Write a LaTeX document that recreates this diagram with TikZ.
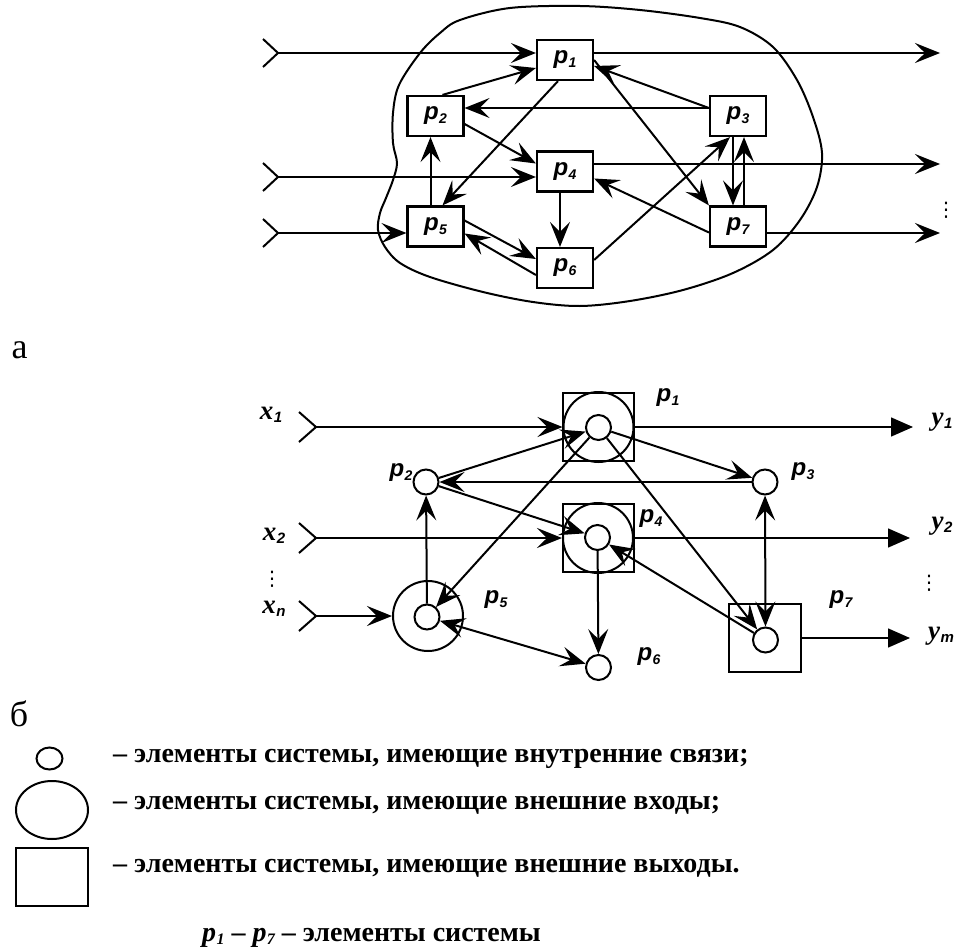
\documentclass[tikz,border=0pt]{standalone}
\usepackage{fontspec}
\setmainfont{Liberation Serif}
\setsansfont{Liberation Sans}
\newfontfamily\dejavu{DejaVu Sans}
\usetikzlibrary{arrows.meta,calc}
\newcommand\pl[1]{{\fontsize{24}{24}\selectfont\sffamily\bfseries\itshape p\kern0.3pt\raisebox{-0.3ex}{\fontsize{14}{14}\selectfont #1}}}
\newcommand\xl[2]{{\fontsize{27}{27}\selectfont\bfseries\itshape #1\kern0.5pt\raisebox{-0.25ex}{\sffamily\fontsize{15}{15}\selectfont #2}}}
\newcommand\pp[1]{{\bfseries\itshape p\kern0.3pt\raisebox{-0.25ex}{\fontsize{16}{16}\selectfont #1}}}
\begin{document}
\begin{tikzpicture}[x=1pt,y=-1pt,
  box/.style={draw,line width=2.2pt,minimum width=56pt,minimum height=40pt,inner sep=0pt,fill=white},
  sq/.style={draw,line width=2pt,minimum width=71pt,minimum height=68pt,inner sep=0pt},
  big/.style={draw,circle,line width=2pt,minimum size=70pt,inner sep=0pt},
  sm/.style={draw,circle,line width=2pt,minimum size=25pt,inner sep=0pt,fill=white},
  ln/.style={line width=2pt},
  tip/.tip={Stealth[length=25pt,width=20pt,inset=10pt]},
  ar/.style={ln,-tip},
  arb/.style={ln,tip-tip},
  outar/.style={line width=1.5pt,-{Triangle[length=22pt,width=19pt]}},
  lbl/.style={inner sep=0pt},
  dots/.style={inner sep=0pt,font=\dejavu\fontsize{20}{20}\selectfont},
  legtext/.style={anchor=west,inner sep=0pt,font=\fontsize{28}{28}\selectfont\bfseries}
]
\useasboundingbox (0,0) rectangle (956,950);

% ================= (a) =================
\draw[line width=2pt] plot[smooth cycle,tension=0.55] coordinates {
(580,6) (640,10) (700,18) (740,27) (773,47) (797,80) (813,117) (822,153)
(817,187) (800,220) (773,250) (733,273) (683,290) (630,301) (580,306)
(533,302) (483,292) (430,277) (400,263) (385,247) (378,230) (380,213)
(386,198) (393,180) (397,163) (393,143) (393,113) (399,85) (420,53)
(440,33) (460,20) (510,8)};

\node[box] (p1) at (565,60) {\pl{1}};
\node[box] (p2) at (435.5,116) {\pl{2}};
\node[box] (p3) at (738,116) {\pl{3}};
\node[box] (p4) at (565,171.5) {\pl{4}};
\node[box] (p5) at (435.5,226.5) {\pl{5}};
\node[box] (p6) at (565,268) {\pl{6}};
\node[box] (p7) at (738,226.5) {\pl{7}};

% inputs
\coordinate (i1) at (278,53);
\coordinate (i2) at (278,177);
\coordinate (i3) at (278,233);
\foreach \i in {i1,i2,i3}{
  \draw[ln,line join=miter] ($(\i)+(-15,-14)$) -- (\i) -- ($(\i)+(-15,14)$);
}
\draw[line width=1.8pt,-tip] (i1) -- (i1 -| p1.west);
\draw[line width=1.8pt,-tip] (i2) -- (i2 -| p4.west);
\draw[line width=2.2pt,-tip] (i3) -- (i3 -| p5.west);

% outputs
\coordinate (o1) at (940,53);
\coordinate (o2) at (940,164);
\coordinate (o3) at (940,233);
\draw[line width=1.6pt,-tip] (o1 -| p1.east) -- (o1);
\draw[line width=1.6pt,-tip] (o2 -| p4.east) -- (o2);
\draw[line width=2.4pt,-tip] (o3 -| p7.east) -- (o3);
\node[dots] (d0) at (946,210) {⋮};

% internal
\draw[ar] ($(p2.north)+(7,0)$) -- ($(p1.west)+(0,8)$);
\draw[ar] ($(p3.west)+(0,-8)$) -- ($(p2.east)+(0,-8)$);
\draw[ar] ($(p3.west)+(0,-8)$) -- ($(p1.east)+(0,6)$);
\draw[ar] (p1.east) -- (p7.north west);
\draw[ar] ($(p1.south)+(-7,0)$) -- ($(p5.north)+(7,0)$);
\draw[ar] ($(p2.east)+(0,8)$) -- ($(p4.west)+(0,-8)$);
\draw[ar] ($(p5.north)+(-5,0)$) -- ($(p2.south)+(-5,0)$);
\draw[ar] ($(p4.south)+(-5,0)$) -- ($(p6.north)+(-5,0)$);
\draw[ar] ($(p5.east)+(0,-6)$) -- ($(p6.west)+(0,-9)$);
\draw[ar] ($(p6.west)+(0,7)$) -- ($(p5.east)+(0,7)$);
\draw[ar] ($(p6.east)+(0,-8)$) -- ($(p3.south)+(-8,0)$);
\draw[ar] ($(p7.west)+(0,6)$) -- ($(p4.east)+(0,7)$);
\draw[ar] ($(p3.south)+(-5,0)$) -- ($(p7.north)+(-5,0)$);
\draw[ar] ($(p7.north)+(6,0)$) -- ($(p3.south)+(6,0)$);

\node[lbl,font=\fontsize{36}{36}\selectfont] (la) at (19.5,350) {а};

% ================= (б) =================
\node[sq] (s1) at (598.5,427) {};
\node[sq] (s4) at (598,538) {};
\node[draw,line width=2pt,minimum width=72pt,minimum height=68pt,inner sep=0pt] (s7) at (765,638) {};
\node[big] (b1) at (598.5,427) {};
\node[big] (b4) at (598,538) {};
\node[big] (b5) at (428,616) {};

\node[sm] (c1) at (598.5,427.5) {};
\node[sm] (c2) at (426,482) {};
\node[sm] (c3) at (765,482) {};
\node[sm] (c4) at (597.5,537.5) {};
\node[sm] (c5) at (427,617) {};
\node[sm] (c6) at (598.5,667.5) {};
\node[sm] (c7) at (765.5,640) {};

\node[lbl] (l1) at (668,398) {\pl{1}};
\node[lbl] (l2) at (401,473) {\pl{2}};
\node[lbl] (l3) at (803,472) {\pl{3}};
\node[lbl] (l4) at (651,519) {\pl{4}};
\node[lbl] (l5) at (496,600) {\pl{5}};
\node[lbl] (l6) at (649,657) {\pl{6}};
\node[lbl] (l7) at (841,600) {\pl{7}};

% inputs
\coordinate (j1) at (316,427);
\coordinate (j2) at (316,538);
\coordinate (j3) at (316,616);
\foreach \i in {j1,j2,j3}{
  \draw[ln,line join=miter] ($(\i)+(-17,-15)$) -- (\i) -- ($(\i)+(-17,15)$);
}
\draw[ar] (j1) -- (j1 -| b1.west);
\draw[ar] (j2) -- (j2 -| b4.west);
\draw[ar] (j3) -- (j3 -| b5.west);
\node[lbl] (x1) at (271,415) {\xl{x}{1}};
\node[lbl] (x2) at (274,536) {\xl{x}{2}};
\node[dots] (d1) at (272,579) {⋮};
\node[lbl] (xn) at (274,609) {\xl{x}{n}};

% outputs
\coordinate (q1) at (913,427);
\coordinate (q2) at (910,538);
\coordinate (q3) at (910,638);
\draw[outar] (s1.east) -- (q1);
\draw[outar] (s4.east) -- (q2);
\draw[outar] (s7.east) -- (q3);
\node[lbl] (y1) at (942,422) {\xl{y}{1}};
\node[lbl] (y2) at (942,526) {\xl{y}{2}};
\node[dots] (d2) at (929,583) {⋮};
\node[lbl] (ym) at (941,636) {\xl{y}{m}};

% internal
\draw[ar] (c2) -- (c1);
\draw[ar] (c3) -- (c2);
\draw[ar] (c1) -- (c3);
\draw[ar] (c1) -- (c5);
\draw[ar] (c1) -- (c7);
\draw[ar] (c2) -- (c4);
\draw[ar] (c5) -- (c2);
\draw[ar] (c4) -- (c6);
\draw[arb] (c5) -- (c6);
\draw[ar] (c7) -- (c4);
\draw[arb] (c3) -- (c7);

\node[lbl,font=\fontsize{36}{36}\selectfont] (lb) at (19,714) {б};

% ================= legend =================
\draw[line width=2pt] (49.5,758.5) ellipse [x radius=13,y radius=11];
\draw[line width=2pt] (52,810) ellipse [x radius=36,y radius=29];
\draw[line width=2pt] (16,848) rectangle (88,906);
\node[legtext] (t1) at (113,759) {– элементы системы, имеющие внутренние связи;};
\node[legtext] (t2) at (113,805) {– элементы системы, имеющие внешние входы;};
\node[legtext] (t3) at (113,868) {– элементы системы, имеющие внешние выходы.};
\node[legtext] (t4) at (202,938) {\pp{1} – \pp{7} – элементы системы};
\end{tikzpicture}
\end{document}
